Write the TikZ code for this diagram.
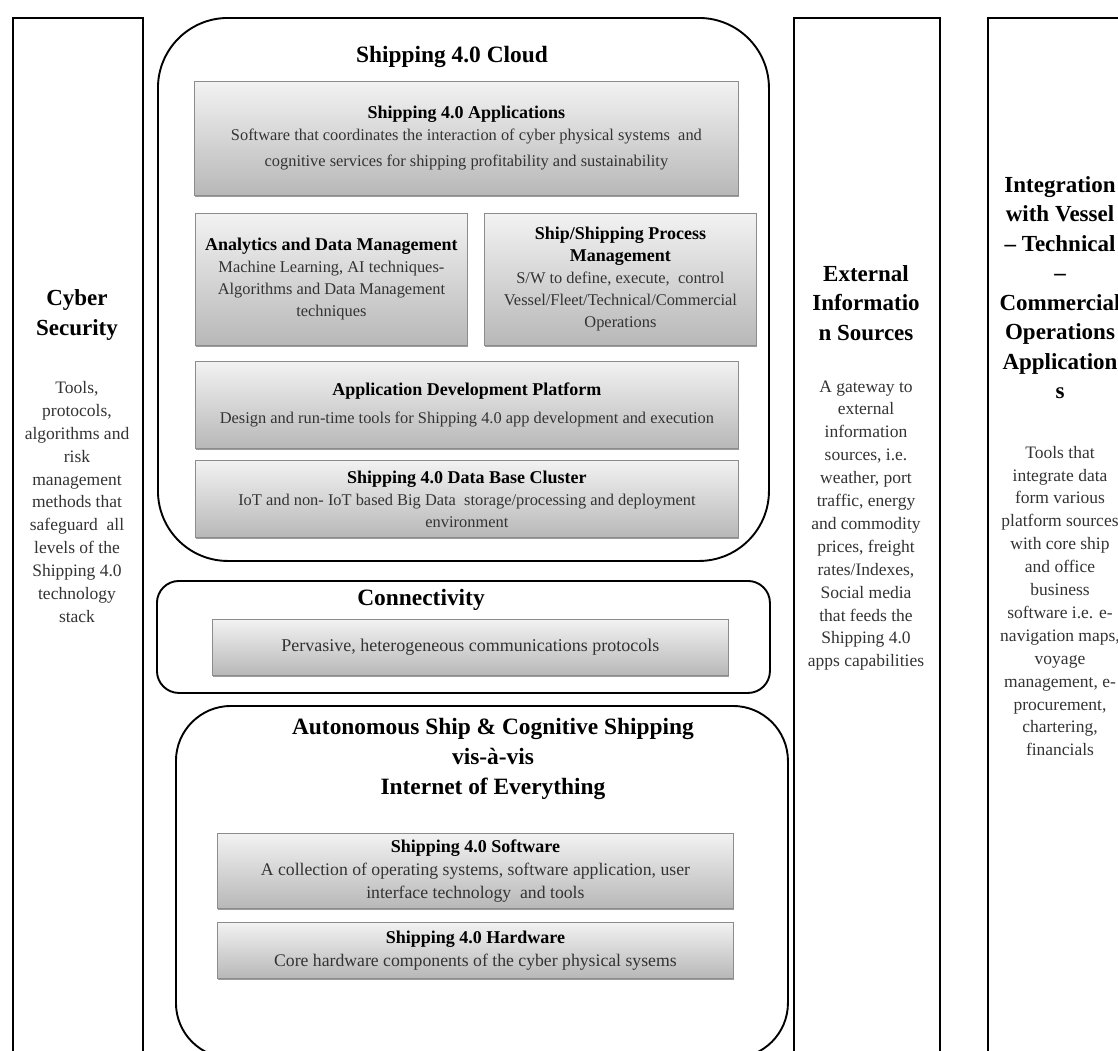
\documentclass[tikz,border=0pt]{standalone}
\usepackage{fontspec}
\setmainfont{Liberation Serif}
\usetikzlibrary{shadows}

\newcommand\tiletitle[1]{{\bfseries\fontsize{18}{22}\selectfont\color{black}#1}}

\begin{document}
\begin{tikzpicture}[x=1pt,y=-1pt,
  frame/.style={draw=black, line width=1.9pt, rectangle, inner sep=0pt, anchor=north west},
  tile/.style={draw=black!45, line width=0.8pt, rectangle, anchor=north west,
    top color=black!5, bottom color=black!28,
    drop shadow={shadow xshift=0.8pt, shadow yshift=-2pt, fill=black!55, opacity=0.7},
    align=center, inner sep=2pt, text=black!80},
  bigtitle/.style={font=\bfseries\fontsize{23.4}{30}\selectfont, align=center, inner sep=0pt},
  coltitle/.style={font=\bfseries\fontsize{23}{29.5}\selectfont, align=center, inner sep=0pt},
  colbody/.style={font=\fontsize{17.5}{22.9}\selectfont, align=center, inner sep=0pt, text=black!80},
  cloudtext/.style={font=\fontsize{16.4}{22}\selectfont},
  groundtext/.style={font=\fontsize{17.7}{23}\selectfont}
]
\useasboundingbox (0,0) rectangle (1118,1050);
\fill[white] (0,0) rectangle (1118,1050);

% side columns
\node[frame, minimum width=130pt, minimum height=1070pt] (cyber) at (12,17) {};
\node[frame, minimum width=146pt, minimum height=1070pt] (extinfo) at (793,17) {};
\node[frame, minimum width=146pt, minimum height=1070pt] (integ) at (987,17) {};

% stacked layers
\node[frame, rounded corners=70pt, minimum width=611pt, minimum height=543pt] (cloud) at (157,17) {};
\node[frame, rounded corners=22pt, minimum width=613pt, minimum height=112pt] (conn) at (156,580) {};
\node[frame, rounded corners=55pt, minimum width=612pt, minimum height=352pt] (auton) at (175,705) {};

% cloud layer
\node[bigtitle] (cloudT) at (452,57) {Shipping 4.0 Cloud};
\node[tile, cloudtext, minimum width=544pt, minimum height=114pt] (apps) at (194,81)
  {\tiletitle{Shipping 4.0 Applications}\\
   Software that coordinates the interaction of cyber physical systems\ \ and\\[4pt]
   cognitive services for shipping profitability and sustainability};
\node[tile, cloudtext, minimum width=272pt, minimum height=132pt] (analytics) at (195,213)
  {\tiletitle{Analytics and Data Management}\\
   Machine Learning, AI techniques-\\
   Algorithms and Data Management\\
   techniques};
\node[tile, cloudtext, minimum width=272pt, minimum height=132pt] (process) at (484,213)
  {\tiletitle{Ship/Shipping Process}\\
   \tiletitle{Management}\\
   S/W to define, execute,\ \ control\\
   Vessel/Fleet/Technical/Commercial\\
   Operations};
\node[tile, cloudtext, minimum width=543pt, minimum height=87pt] (appdev) at (195,361)
  {\tiletitle{Application Development Platform}\\[6pt]
   Design and run-time tools for Shipping 4.0 app development and execution};
\node[tile, cloudtext, minimum width=543pt, minimum height=77pt] (dbcluster) at (195,460)
  {\tiletitle{Shipping 4.0 Data Base Cluster}\\
   IoT and non- IoT based Big Data\ \ storage/processing and deployment\\
   environment};

% connectivity layer
\node[bigtitle] (connT) at (421,600) {Connectivity};
\node[tile, font=\fontsize{18}{22}\selectfont, minimum width=516pt, minimum height=56pt] (pervasive) at (212,619)
  {Pervasive, heterogeneous communications protocols};

% physical layer
\node[bigtitle] (autonT) at (493,759)
  {Autonomous Ship \& Cognitive Shipping\\vis-à-vis\\Internet of Everything};
\node[tile, groundtext, minimum width=516pt, minimum height=75pt] (software) at (217,833)
  {\tiletitle{Shipping 4.0 Software}\\
   A collection of operating systems, software application, user\\
   interface technology\ \ and tools};
\node[tile, groundtext, minimum width=516pt, minimum height=56pt] (hardware) at (217,922)
  {\tiletitle{Shipping 4.0 Hardware}\\
   Core hardware components of the cyber physical sysems};

% cyber security column
\node[coltitle] (cyberT) at (77,315) {Cyber\\Security};
\node[colbody] (cyberB) at (77,502)
  {Tools,\\protocols,\\algorithms and\\risk\\management\\methods that\\safeguard\ \ all\\levels of the\\Shipping 4.0\\technology\\stack};

% external information column
\node[coltitle] (extT) at (866,303) {External\\Informatio\\n Sources};
\node[colbody] (extB) at (866,525.5)
  {A gateway to\\external\\information\\sources, i.e.\\weather, port\\traffic, energy\\and commodity\\prices, freight\\rates/Indexes,\\Social media\\that feeds the\\Shipping 4.0\\apps capabilities};

% integration column, running past the right margin
\node[coltitle] (integT) at (1060,287.5)
  {Integration\\with Vessel\\– Technical\\–\\Commercial\\Operations\\Application\\s};
\node[colbody] (integB) at (1060,601)
  {Tools that\\integrate data\\form various\\platform sources\\with core ship\\and office\\business\\software i.e. e-\\navigation maps,\\voyage\\management, e-\\procurement,\\chartering,\\financials};
\end{tikzpicture}
\end{document}
